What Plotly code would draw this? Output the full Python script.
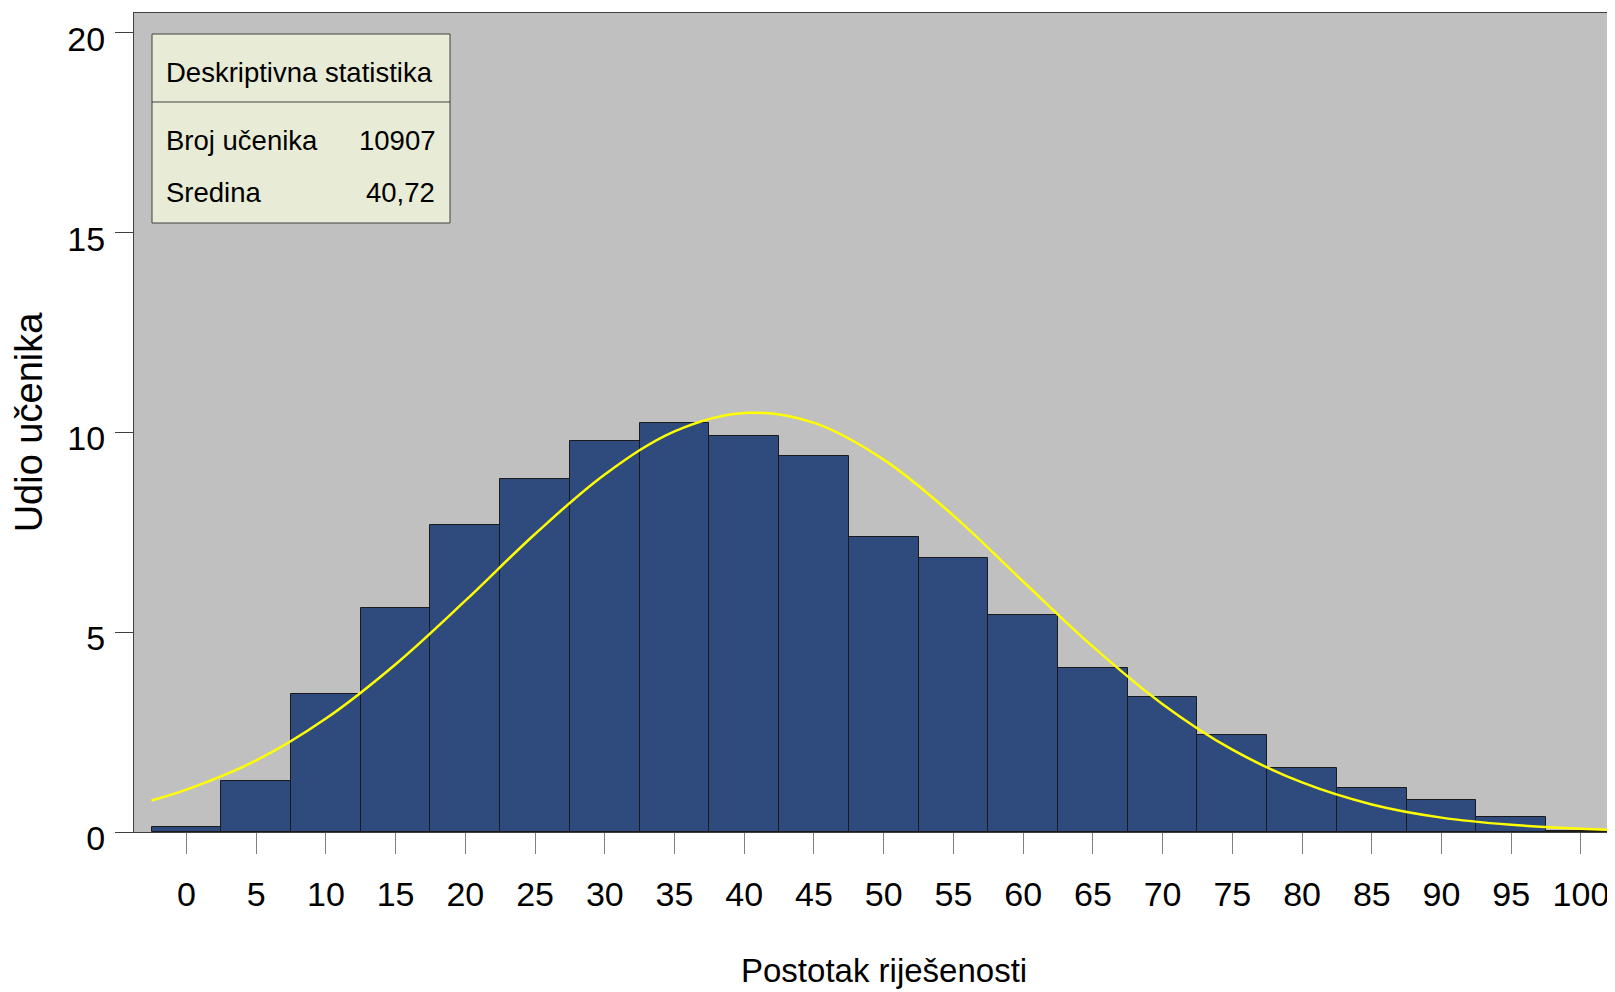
import plotly.graph_objects as go

# ---- data ----
bin_centers = [0, 5, 10, 15, 20, 25, 30, 35, 40, 45, 50, 55, 60, 65, 70, 75, 80, 85, 90, 95, 100]
share_pct = [0.13, 1.27, 3.45, 5.61, 7.69, 8.84, 9.78, 10.23, 9.92, 9.41, 7.39,
             6.85, 5.43, 4.11, 3.37, 2.43, 1.59, 1.10, 0.81, 0.37, 0.03]

curve_x = [-2.5, 0, 5, 10, 15, 20, 25, 30, 35, 40, 45, 50, 55, 60, 65, 70,
           75, 80, 85, 90, 95, 100, 102.5]
curve_y = [0.79, 1.06, 1.79, 2.84, 4.20, 5.79, 7.46, 8.95, 10.03, 10.49, 10.24,
           9.32, 7.92, 6.27, 4.64, 3.20, 2.06, 1.24, 0.69, 0.36, 0.18, 0.08, 0.05]

x_ticks = [0, 5, 10, 15, 20, 25, 30, 35, 40, 45, 50, 55, 60, 65, 70, 75, 80, 85, 90, 95, 100]
y_ticks = [0, 5, 10, 15, 20]

stats_title = "Deskriptivna statistika"
stats_labels = ["Broj učenika", "Sredina"]
stats_values = ["10907", "40,72"]

x_title = "Postotak riješenosti"
y_title = "Udio učenika"

# ---- styling ----
FONT = "Liberation Sans, Arial, sans-serif"
OFF = 8  # default page body margin
W, H = 1615 - OFF, 992 - OFF
ML, MR, MT = 134 - OFF, 0, 13 - OFF
PLOT_BOTTOM = 832 - OFF
MB = H - PLOT_BOTTOM
PW, PH = W - ML - MR, H - MT - MB


def px_x(p):  # page pixel -> paper
    return (p - OFF - ML) / PW


def px_y(p):
    return 1 - (p - OFF - MT) / PH


fig = go.Figure()
fig.add_trace(go.Bar(
    x=bin_centers, y=share_pct, width=5,
    marker=dict(color="#2F4B7D", line=dict(color="#1a1a1a", width=1)),
    showlegend=False, hoverinfo="x+y",
))
fig.add_trace(go.Scatter(
    x=curve_x, y=curve_y, mode="lines",
    line=dict(color="#FFFF00", width=2.5, shape="spline"),
    showlegend=False,
))

# statistics box
box_l, box_r, box_t, box_b, div_y = 152, 450, 34, 223, 102
fig.add_shape(type="rect", xref="paper", yref="paper",
              x0=px_x(box_l), x1=px_x(box_r), y0=px_y(box_b), y1=px_y(box_t),
              fillcolor="#E8ECD6", line=dict(color="#404040", width=1), layer="above")
fig.add_shape(type="line", xref="paper", yref="paper",
              x0=px_x(box_l), x1=px_x(box_r), y0=px_y(div_y), y1=px_y(div_y),
              line=dict(color="#404040", width=1), layer="above")

fig.add_annotation(xref="paper", yref="paper", x=px_x(164), y=px_y(73),
                   text=stats_title, showarrow=False, xanchor="left", yanchor="middle",
                   font=dict(family=FONT, size=27.5, color="black"))
for i, (lab, val) in enumerate(zip(stats_labels, stats_values)):
    yc = [140, 192][i]
    fig.add_annotation(xref="paper", yref="paper", x=px_x(164), y=px_y(yc),
                       text=lab, showarrow=False, xanchor="left", yanchor="middle",
                       font=dict(family=FONT, size=27.5, color="black"))
    fig.add_annotation(xref="paper", yref="paper", x=px_x(437), y=px_y(yc),
                       text=val, showarrow=False, xanchor="right", yanchor="middle",
                       font=dict(family=FONT, size=27.5, color="black"))

# x-axis title, centred under the 0-100 scale
fig.add_annotation(xref="x", yref="paper", x=50, y=px_y(970),
                   text=x_title, showarrow=False, xanchor="center", yanchor="middle",
                   font=dict(family=FONT, size=33, color="black"))

fig.update_layout(
    width=W, height=H,
    margin=dict(l=ML, r=MR, t=MT, b=MB, autoexpand=False),
    paper_bgcolor="white", plot_bgcolor="#C0C0C0",
    font=dict(family=FONT, size=34, color="black"),
    bargap=0,
)
fig.update_xaxes(
    range=[-3.76, 102.44], tickvals=x_ticks, ticktext=[str(v) for v in x_ticks],
    ticks="outside", ticklen=21, tickcolor="#808080", tickwidth=1,
    showline=True, linecolor="#404040", linewidth=1, mirror=True,
    showgrid=False, zeroline=False, ticklabelstandoff=11,
    tickfont=dict(family=FONT, size=34),
)
fig.update_yaxes(
    range=[0, 20.5], tickvals=y_ticks, ticktext=[str(v) for v in y_ticks],
    ticks="outside", ticklen=18, tickcolor="#404040", tickwidth=1,
    showline=True, linecolor="#404040", linewidth=1, mirror=False,
    showgrid=False, zeroline=False, ticklabelstandoff=3, ticklabelshift=6,
    tickfont=dict(family=FONT, size=34),
    title=dict(text=y_title, font=dict(family=FONT, size=38), standoff=13),
)

fig.write_html("out.html")
